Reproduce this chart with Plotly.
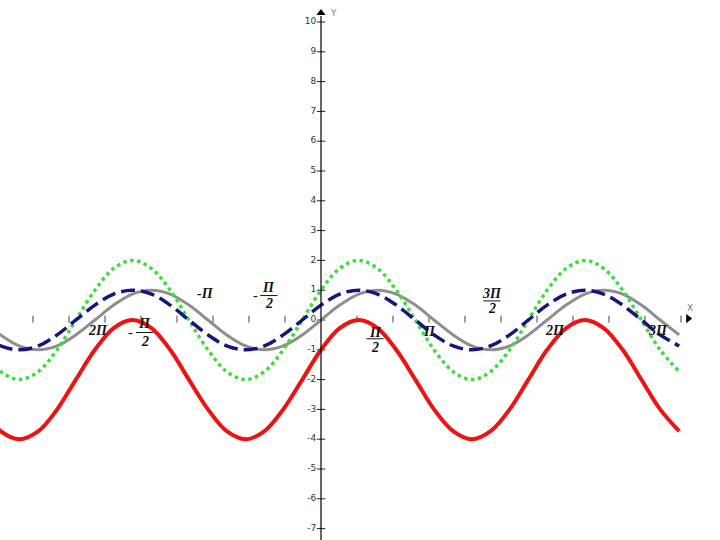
"""Четыре синусоиды на декартовой плоскости с отметками кратных Π."""

import plotly.graph_objects as go

# абсциссы точек (шаг Π/6) и значения кривых
x_vals = [-9.42, -8.90, -8.38, -7.85, -7.33, -6.81, -6.28, -5.76, -5.24, -4.71,
          -4.19, -3.67, -3.14, -2.62, -2.09, -1.57, -1.05, -0.52, 0.0, 0.52,
          1.05, 1.57, 2.09, 2.62, 3.14, 3.67, 4.19, 4.71, 5.24, 5.76,
          6.28, 6.81, 7.33, 7.85, 8.38, 8.90, 9.42, 9.95]

y_gray = [0, -0.5, -0.87, -1, -0.87, -0.5, 0, 0.5, 0.87, 1,
          0.87, 0.5, 0, -0.5, -0.87, -1, -0.87, -0.5, 0, 0.5,
          0.87, 1, 0.87, 0.5, 0, -0.5, -0.87, -1, -0.87, -0.5,
          0, 0.5, 0.87, 1, 0.87, 0.5, 0, -0.5]

y_blue = [-0.5, -0.87, -1, -0.87, -0.5, 0, 0.5, 0.87, 1, 0.87,
          0.5, 0, -0.5, -0.87, -1, -0.87, -0.5, 0, 0.5, 0.87,
          1, 0.87, 0.5, 0, -0.5, -0.87, -1, -0.87, -0.5, 0,
          0.5, 0.87, 1, 0.87, 0.5, 0, -0.5, -0.87]

y_green = [-1, -1.73, -2, -1.73, -1, 0, 1, 1.73, 2, 1.73,
           1, 0, -1, -1.73, -2, -1.73, -1, 0, 1, 1.73,
           2, 1.73, 1, 0, -1, -1.73, -2, -1.73, -1, 0,
           1, 1.73, 2, 1.73, 1, 0, -1, -1.73]

y_red = [-3, -3.73, -4, -3.73, -3, -2, -1, -0.27, 0, -0.27,
         -1, -2, -3, -3.73, -4, -3.73, -3, -2, -1, -0.27,
         0, -0.27, -1, -2, -3, -3.73, -4, -3.73, -3, -2,
         -1, -0.27, 0, -0.27, -1, -2, -3, -3.73]

y_ticks = [-7, -6, -5, -4, -3, -2, -1, 0, 1, 2, 3, 4, 5, 6, 7, 8, 9, 10]
x_ticks = [-8, -7, -6, -5, -4, -3, -2, -1, 1, 2, 3, 4, 5, 6, 7, 8, 9, 10]

# подписи на оси X: (текст, x, y), дроби отдельно
pi_labels = [("2Π", -6.2, -0.34), ("-Π", -3.2, 0.9), ("Π", 3.0, -0.37),
             ("2Π", 6.5, -0.34), ("3Π", 9.35, -0.34)]
pi_fractions = [("-", "Π", -4.9), ("-", "Π", -1.45), ("", "Π", 1.5), ("", "3Π", 4.75)]
frac_rows = [(-0.12, -0.72, -0.42), (1.08, 0.57, 0.82), (-0.42, -0.91, -0.63),
             (0.9, 0.4, 0.64)]

X_RANGE = [-321 / 36, (720 - 321) / 36]
Y_RANGE = [-220 / 29.8, 320 / 29.8]
PI_FONT = dict(family="Liberation Serif", size=14, color="#111111")


def _curve(y, color, width, dash="solid"):
    return go.Scatter(
        x=x_vals, y=y, mode="lines",
        line=dict(color=color, width=width, dash=dash, shape="spline", smoothing=1.0),
        hoverinfo="skip", showlegend=False,
    )


fig = go.Figure()

# оси
fig.add_shape(type="line", x0=0, x1=0, y0=Y_RANGE[0], y1=10.2,
              line=dict(color="#000000", width=1.2))
fig.add_trace(go.Scatter(
    x=[0], y=[10.3], mode="markers",
    marker=dict(symbol="triangle-up", size=8, color="#000000"),
    hoverinfo="skip", showlegend=False,
))
fig.add_trace(go.Scatter(
    x=[10.2], y=[0.05], mode="markers",
    marker=dict(symbol="triangle-right", size=8, color="#000000"),
    hoverinfo="skip", showlegend=False,
))
fig.add_trace(go.Scatter(
    x=[0] * len(y_ticks), y=y_ticks, mode="markers+text",
    text=[str(v) for v in y_ticks], textposition="middle left",
    textfont=dict(family="DejaVu Sans", size=9, color="#333333"),
    marker=dict(symbol="line-ew", size=6, line=dict(color="#222222", width=1)),
    hoverinfo="skip", showlegend=False,
))
fig.add_trace(go.Scatter(
    x=x_ticks, y=[0.03] * len(x_ticks), mode="markers",
    marker=dict(symbol="line-ns", size=5, line=dict(color="#444444", width=1)),
    hoverinfo="skip", showlegend=False,
))

# кривые
fig.add_trace(_curve(y_gray, "#8e8e8e", 3))
fig.add_trace(_curve(y_green, "#3fdc3f", 3.5, dash="dot"))
fig.add_trace(_curve(y_blue, "#16167a", 3.5, dash="14px,6px"))
fig.add_trace(_curve(y_red, "#f01212", 4))

annotations = [
    dict(x=0.2, y=10.3, text="Y", showarrow=False, xanchor="left",
         font=dict(family="DejaVu Sans", size=9, color="#777777")),
    dict(x=10.25, y=0.4, text="X", showarrow=False,
         font=dict(family="DejaVu Sans", size=9, color="#777777")),
]
for text, x, y in pi_labels:
    annotations.append(dict(x=x, y=y, text=f"<b><i>{text}</i></b>", showarrow=False,
                            font=PI_FONT))
for (sign, num, x), (y_num, y_den, y_bar) in zip(pi_fractions, frac_rows):
    annotations.append(dict(x=x, y=y_num, text=f"<b><i>{num}</i></b>", showarrow=False,
                            font=PI_FONT))
    annotations.append(dict(x=x, y=y_den, text="<b><i>2</i></b>", showarrow=False,
                            font=PI_FONT))
    if sign:
        annotations.append(dict(x=x - 0.38, y=y_bar, text=sign, showarrow=False,
                                font=PI_FONT))
    fig.add_shape(type="line", x0=x - 0.24, x1=x + 0.24, y0=y_bar, y1=y_bar,
                  line=dict(color="#111111", width=1))

fig.update_layout(
    width=720, height=540,
    margin=dict(l=0, r=0, t=0, b=0),
    paper_bgcolor="white", plot_bgcolor="white",
    xaxis=dict(range=X_RANGE, visible=False, fixedrange=True),
    yaxis=dict(range=Y_RANGE, visible=False, fixedrange=True),
    annotations=annotations,
)

# страница по умолчанию даёт отступ 8px у body — убираем его
fig.write_html("out.html", config={"displayModeBar": False},
               post_script="document.body.style.margin='0';")
